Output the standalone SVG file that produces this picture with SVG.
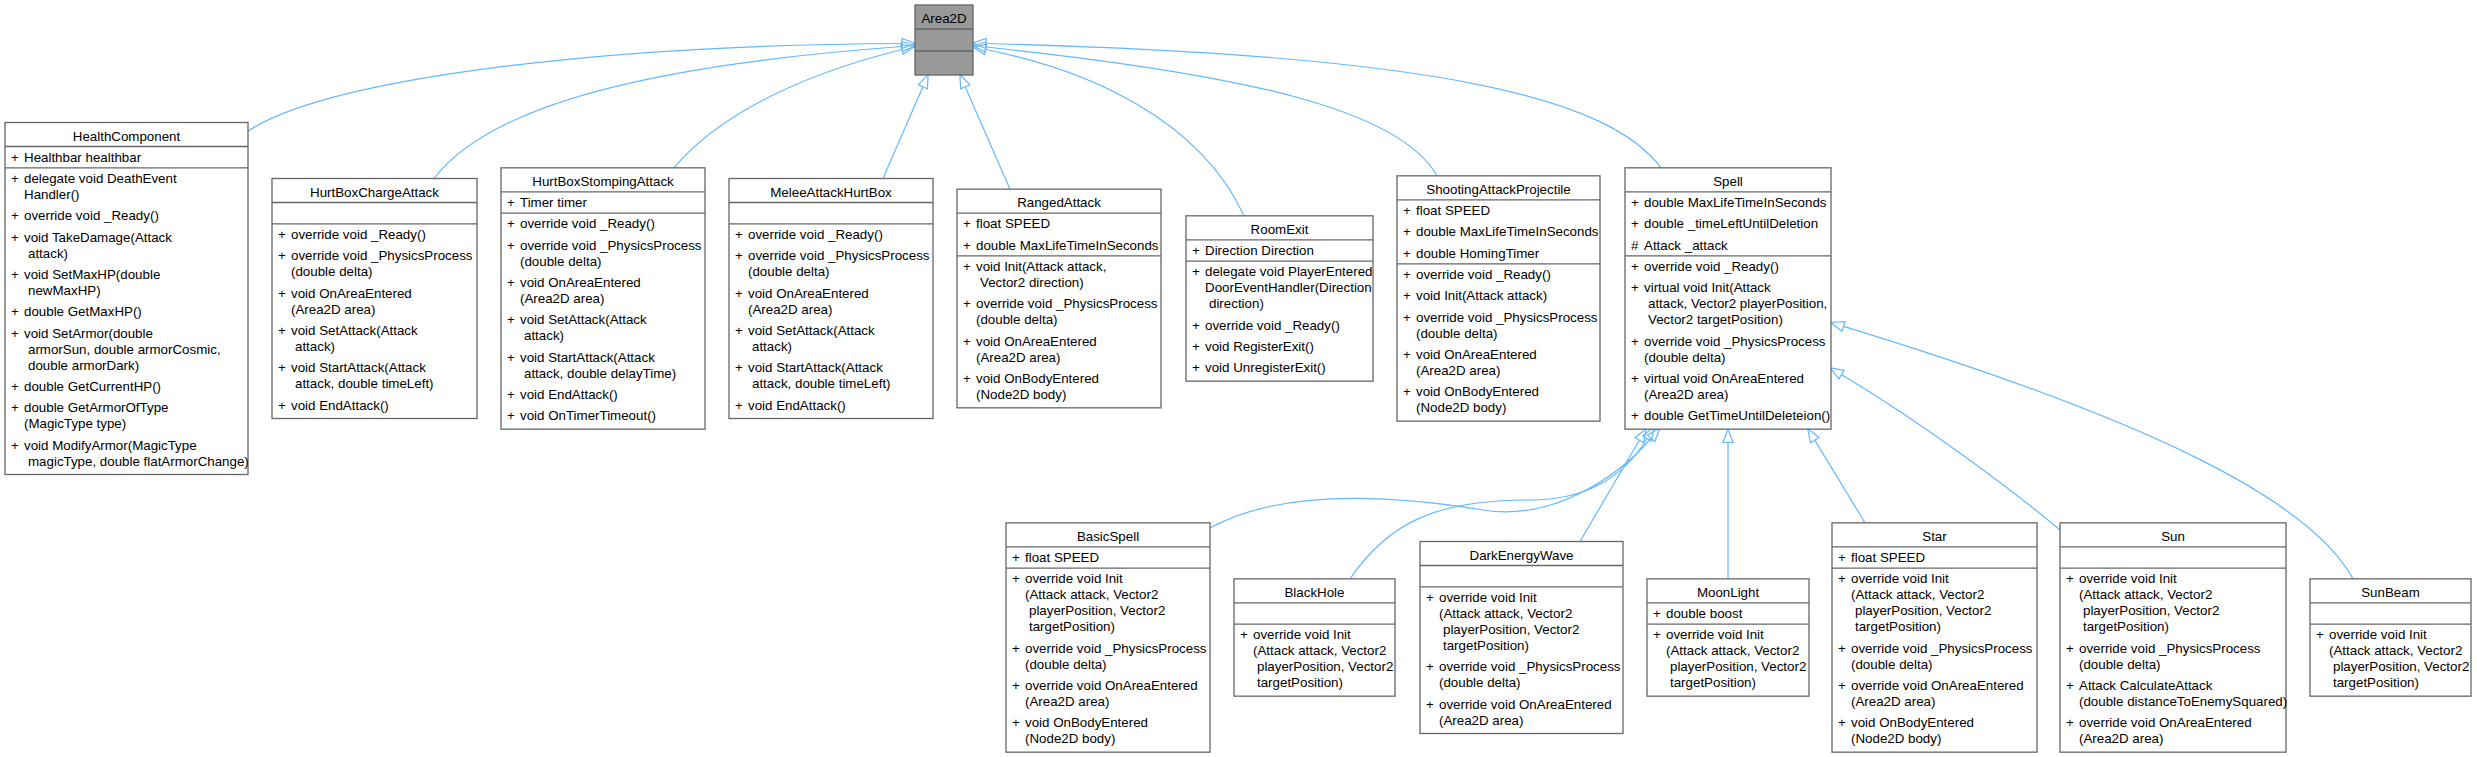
<svg xmlns="http://www.w3.org/2000/svg" width="2477" height="757" viewBox="0 0 2477 757">
<style>
.bx{fill:#ffffff;stroke:#666666;stroke-width:1.3}
.gr{fill:#999999;stroke:#666666;stroke-width:1.3}
.sp{stroke:#666666;stroke-width:1.3}
text{font-family:"Liberation Sans",Arial,sans-serif;font-size:13.33px;fill:#000000}
.c{text-anchor:middle}
.e{fill:none;stroke:#63B8FF;stroke-width:1.2;marker-end:url(#arr)}
</style>
<defs>
<marker id="arr" markerUnits="userSpaceOnUse" markerWidth="16" markerHeight="12" refX="0" refY="6" orient="auto" viewBox="0 0 16 12" overflow="visible">
<path d="M0,1 L13.5,6 L0,11 Z" fill="none" stroke="#63B8FF" stroke-width="1.2"/>
</marker>
</defs>
<rect width="2477" height="757" fill="#ffffff"/>

<g id="edges">
<path class="e" d="M248,131 C330,78 600,45 902,43.5"/>
<path class="e" d="M434,178.5 C490,105 650,65 902,46.5"/>
<path class="e" d="M674,167.8 C710,125 780,80 902,49.5"/>
<path class="e" d="M883,178.5 L922.8,86.9"/>
<path class="e" d="M1010,189.2 L965.3,86.9"/>
<path class="e" d="M1244,215.8 C1200,120 1090,70 985.5,49.5"/>
<path class="e" d="M1437,175.8 C1400,110 1250,75 985.7,47"/>
<path class="e" d="M1661,167.8 C1610,100 1450,55 986,43.5"/>
<path class="e" d="M1210,528 C1270,495 1360,490 1483,510 C1550,521 1615,480 1651,438.5"/>
<path class="e" d="M1350,578.8 C1390,520 1440,500 1530,500 C1590,500 1625,475 1647,438.5"/>
<path class="e" d="M1580,541.5 L1639.4,440.2"/>
<path class="e" d="M1728,578.8 L1728,442.5"/>
<path class="e" d="M1865,522.8 L1814.7,440.1"/>
<path class="e" d="M2060,530 C2010,488 1925,425 1841.5,374.6"/>
<path class="e" d="M2353,578.8 C2310,500 2150,420 1843.6,326.4"/>
</g>

<g id="Area2D">
<rect class="gr" x="915" y="5" width="58" height="70"/>
<line class="sp" x1="915" y1="29" x2="973" y2="29"/>
<line class="sp" x1="915" y1="51" x2="973" y2="51"/>
<text class="c" x="944" y="23">Area2D</text>
</g>

<g id="HealthComponent">
<rect class="bx" x="5" y="122.5" width="243" height="352"/>
<line class="sp" x1="5" y1="146.5" x2="248" y2="146.5"/>
<line class="sp" x1="5" y1="167.83" x2="248" y2="167.83"/>
<text class="c" x="126.5" y="140.5">HealthComponent</text>
<text x="11" y="161.7">+<tspan x="24">Healthbar healthbar</tspan></text>
<text x="11" y="183">+<tspan x="24">delegate void DeathEvent</tspan></text>
<text x="24" y="199">Handler()</text>
<text x="11" y="220.33">+<tspan x="24">override void _Ready()</tspan></text>
<text x="11" y="241.67">+<tspan x="24">void TakeDamage(Attack</tspan></text>
<text x="28" y="257.67">attack)</text>
<text x="11" y="279">+<tspan x="24">void SetMaxHP(double</tspan></text>
<text x="28" y="295">newMaxHP)</text>
<text x="11" y="316.33">+<tspan x="24">double GetMaxHP()</tspan></text>
<text x="11" y="337.67">+<tspan x="24">void SetArmor(double</tspan></text>
<text x="28" y="353.67">armorSun, double armorCosmic,</text>
<text x="28" y="369.67">double armorDark)</text>
<text x="11" y="391">+<tspan x="24">double GetCurrentHP()</tspan></text>
<text x="11" y="412.33">+<tspan x="24">double GetArmorOfType</tspan></text>
<text x="24" y="428.33">(MagicType type)</text>
<text x="11" y="449.67">+<tspan x="24">void ModifyArmor(MagicType</tspan></text>
<text x="28" y="465.67">magicType, double flatArmorChange)</text>
</g>

<g id="HurtBoxChargeAttack">
<rect class="bx" x="272" y="178.5" width="205" height="240"/>
<line class="sp" x1="272" y1="202.5" x2="477" y2="202.5"/>
<line class="sp" x1="272" y1="223.83" x2="477" y2="223.83"/>
<text class="c" x="374.5" y="196.5">HurtBoxChargeAttack</text>
<text x="278" y="239">+<tspan x="291">override void _Ready()</tspan></text>
<text x="278" y="260.33">+<tspan x="291">override void _PhysicsProcess</tspan></text>
<text x="291" y="276.33">(double delta)</text>
<text x="278" y="297.67">+<tspan x="291">void OnAreaEntered</tspan></text>
<text x="291" y="313.67">(Area2D area)</text>
<text x="278" y="335">+<tspan x="291">void SetAttack(Attack</tspan></text>
<text x="295" y="351">attack)</text>
<text x="278" y="372.33">+<tspan x="291">void StartAttack(Attack</tspan></text>
<text x="295" y="388.33">attack, double timeLeft)</text>
<text x="278" y="409.67">+<tspan x="291">void EndAttack()</tspan></text>
</g>

<g id="HurtBoxStompingAttack">
<rect class="bx" x="501" y="167.83" width="204" height="261.33"/>
<line class="sp" x1="501" y1="191.83" x2="705" y2="191.83"/>
<line class="sp" x1="501" y1="213.17" x2="705" y2="213.17"/>
<text class="c" x="603" y="185.83">HurtBoxStompingAttack</text>
<text x="507" y="207.03">+<tspan x="520">Timer timer</tspan></text>
<text x="507" y="228.33">+<tspan x="520">override void _Ready()</tspan></text>
<text x="507" y="249.67">+<tspan x="520">override void _PhysicsProcess</tspan></text>
<text x="520" y="265.67">(double delta)</text>
<text x="507" y="287">+<tspan x="520">void OnAreaEntered</tspan></text>
<text x="520" y="303">(Area2D area)</text>
<text x="507" y="324.33">+<tspan x="520">void SetAttack(Attack</tspan></text>
<text x="524" y="340.33">attack)</text>
<text x="507" y="361.67">+<tspan x="520">void StartAttack(Attack</tspan></text>
<text x="524" y="377.67">attack, double delayTime)</text>
<text x="507" y="399">+<tspan x="520">void EndAttack()</tspan></text>
<text x="507" y="420.33">+<tspan x="520">void OnTimerTimeout()</tspan></text>
</g>

<g id="MeleeAttackHurtBox">
<rect class="bx" x="729" y="178.5" width="204" height="240"/>
<line class="sp" x1="729" y1="202.5" x2="933" y2="202.5"/>
<line class="sp" x1="729" y1="223.83" x2="933" y2="223.83"/>
<text class="c" x="831" y="196.5">MeleeAttackHurtBox</text>
<text x="735" y="239">+<tspan x="748">override void _Ready()</tspan></text>
<text x="735" y="260.33">+<tspan x="748">override void _PhysicsProcess</tspan></text>
<text x="748" y="276.33">(double delta)</text>
<text x="735" y="297.67">+<tspan x="748">void OnAreaEntered</tspan></text>
<text x="748" y="313.67">(Area2D area)</text>
<text x="735" y="335">+<tspan x="748">void SetAttack(Attack</tspan></text>
<text x="752" y="351">attack)</text>
<text x="735" y="372.33">+<tspan x="748">void StartAttack(Attack</tspan></text>
<text x="752" y="388.33">attack, double timeLeft)</text>
<text x="735" y="409.67">+<tspan x="748">void EndAttack()</tspan></text>
</g>

<g id="RangedAttack">
<rect class="bx" x="957" y="189.17" width="204" height="218.67"/>
<line class="sp" x1="957" y1="213.17" x2="1161" y2="213.17"/>
<line class="sp" x1="957" y1="255.83" x2="1161" y2="255.83"/>
<text class="c" x="1059" y="207.17">RangedAttack</text>
<text x="963" y="228.37">+<tspan x="976">float SPEED</tspan></text>
<text x="963" y="249.7">+<tspan x="976">double MaxLifeTimeInSeconds</tspan></text>
<text x="963" y="271">+<tspan x="976">void Init(Attack attack,</tspan></text>
<text x="980" y="287">Vector2 direction)</text>
<text x="963" y="308.33">+<tspan x="976">override void _PhysicsProcess</tspan></text>
<text x="976" y="324.33">(double delta)</text>
<text x="963" y="345.67">+<tspan x="976">void OnAreaEntered</tspan></text>
<text x="976" y="361.67">(Area2D area)</text>
<text x="963" y="383">+<tspan x="976">void OnBodyEntered</tspan></text>
<text x="976" y="399">(Node2D body)</text>
</g>

<g id="RoomExit">
<rect class="bx" x="1186" y="215.83" width="187" height="165.33"/>
<line class="sp" x1="1186" y1="239.83" x2="1373" y2="239.83"/>
<line class="sp" x1="1186" y1="261.17" x2="1373" y2="261.17"/>
<text class="c" x="1279.5" y="233.83">RoomExit</text>
<text x="1192" y="255.03">+<tspan x="1205">Direction Direction</tspan></text>
<text x="1192" y="276.33">+<tspan x="1205">delegate void PlayerEntered</tspan></text>
<text x="1205" y="292.33">DoorEventHandler(Direction</text>
<text x="1209" y="308.33">direction)</text>
<text x="1192" y="329.67">+<tspan x="1205">override void _Ready()</tspan></text>
<text x="1192" y="351">+<tspan x="1205">void RegisterExit()</tspan></text>
<text x="1192" y="372.33">+<tspan x="1205">void UnregisterExit()</tspan></text>
</g>

<g id="ShootingAttackProjectile">
<rect class="bx" x="1397" y="175.83" width="203" height="245.33"/>
<line class="sp" x1="1397" y1="199.83" x2="1600" y2="199.83"/>
<line class="sp" x1="1397" y1="263.83" x2="1600" y2="263.83"/>
<text class="c" x="1498.5" y="193.83">ShootingAttackProjectile</text>
<text x="1403" y="215.03">+<tspan x="1416">float SPEED</tspan></text>
<text x="1403" y="236.37">+<tspan x="1416">double MaxLifeTimeInSeconds</tspan></text>
<text x="1403" y="257.7">+<tspan x="1416">double HomingTimer</tspan></text>
<text x="1403" y="279">+<tspan x="1416">override void _Ready()</tspan></text>
<text x="1403" y="300.33">+<tspan x="1416">void Init(Attack attack)</tspan></text>
<text x="1403" y="321.67">+<tspan x="1416">override void _PhysicsProcess</tspan></text>
<text x="1416" y="337.67">(double delta)</text>
<text x="1403" y="359">+<tspan x="1416">void OnAreaEntered</tspan></text>
<text x="1416" y="375">(Area2D area)</text>
<text x="1403" y="396.33">+<tspan x="1416">void OnBodyEntered</tspan></text>
<text x="1416" y="412.33">(Node2D body)</text>
</g>

<g id="Spell">
<rect class="bx" x="1625" y="167.83" width="206" height="261.33"/>
<line class="sp" x1="1625" y1="191.83" x2="1831" y2="191.83"/>
<line class="sp" x1="1625" y1="255.83" x2="1831" y2="255.83"/>
<text class="c" x="1728" y="185.83">Spell</text>
<text x="1631" y="207.03">+<tspan x="1644">double MaxLifeTimeInSeconds</tspan></text>
<text x="1631" y="228.37">+<tspan x="1644">double _timeLeftUntilDeletion</tspan></text>
<text x="1631" y="249.7">#<tspan x="1644">Attack _attack</tspan></text>
<text x="1631" y="271">+<tspan x="1644">override void _Ready()</tspan></text>
<text x="1631" y="292.33">+<tspan x="1644">virtual void Init(Attack</tspan></text>
<text x="1648" y="308.33">attack, Vector2 playerPosition,</text>
<text x="1648" y="324.33">Vector2 targetPosition)</text>
<text x="1631" y="345.67">+<tspan x="1644">override void _PhysicsProcess</tspan></text>
<text x="1644" y="361.67">(double delta)</text>
<text x="1631" y="383">+<tspan x="1644">virtual void OnAreaEntered</tspan></text>
<text x="1644" y="399">(Area2D area)</text>
<text x="1631" y="420.33">+<tspan x="1644">double GetTimeUntilDeleteion()</tspan></text>
</g>

<g id="BasicSpell">
<rect class="bx" x="1006" y="522.83" width="204" height="229.33"/>
<line class="sp" x1="1006" y1="546.83" x2="1210" y2="546.83"/>
<line class="sp" x1="1006" y1="568.17" x2="1210" y2="568.17"/>
<text class="c" x="1108" y="540.83">BasicSpell</text>
<text x="1012" y="562.03">+<tspan x="1025">float SPEED</tspan></text>
<text x="1012" y="583.33">+<tspan x="1025">override void Init</tspan></text>
<text x="1025" y="599.33">(Attack attack, Vector2</text>
<text x="1029" y="615.33">playerPosition, Vector2</text>
<text x="1029" y="631.33">targetPosition)</text>
<text x="1012" y="652.67">+<tspan x="1025">override void _PhysicsProcess</tspan></text>
<text x="1025" y="668.67">(double delta)</text>
<text x="1012" y="690">+<tspan x="1025">override void OnAreaEntered</tspan></text>
<text x="1025" y="706">(Area2D area)</text>
<text x="1012" y="727.33">+<tspan x="1025">void OnBodyEntered</tspan></text>
<text x="1025" y="743.33">(Node2D body)</text>
</g>

<g id="BlackHole">
<rect class="bx" x="1234" y="578.83" width="161" height="117.33"/>
<line class="sp" x1="1234" y1="602.83" x2="1395" y2="602.83"/>
<line class="sp" x1="1234" y1="624.17" x2="1395" y2="624.17"/>
<text class="c" x="1314.5" y="596.83">BlackHole</text>
<text x="1240" y="639.33">+<tspan x="1253">override void Init</tspan></text>
<text x="1253" y="655.33">(Attack attack, Vector2</text>
<text x="1257" y="671.33">playerPosition, Vector2</text>
<text x="1257" y="687.33">targetPosition)</text>
</g>

<g id="DarkEnergyWave">
<rect class="bx" x="1420" y="541.5" width="203" height="192"/>
<line class="sp" x1="1420" y1="565.5" x2="1623" y2="565.5"/>
<line class="sp" x1="1420" y1="586.83" x2="1623" y2="586.83"/>
<text class="c" x="1521.5" y="559.5">DarkEnergyWave</text>
<text x="1426" y="602">+<tspan x="1439">override void Init</tspan></text>
<text x="1439" y="618">(Attack attack, Vector2</text>
<text x="1443" y="634">playerPosition, Vector2</text>
<text x="1443" y="650">targetPosition)</text>
<text x="1426" y="671.33">+<tspan x="1439">override void _PhysicsProcess</tspan></text>
<text x="1439" y="687.33">(double delta)</text>
<text x="1426" y="708.67">+<tspan x="1439">override void OnAreaEntered</tspan></text>
<text x="1439" y="724.67">(Area2D area)</text>
</g>

<g id="MoonLight">
<rect class="bx" x="1647" y="578.83" width="162" height="117.33"/>
<line class="sp" x1="1647" y1="602.83" x2="1809" y2="602.83"/>
<line class="sp" x1="1647" y1="624.17" x2="1809" y2="624.17"/>
<text class="c" x="1728" y="596.83">MoonLight</text>
<text x="1653" y="618.03">+<tspan x="1666">double boost</tspan></text>
<text x="1653" y="639.33">+<tspan x="1666">override void Init</tspan></text>
<text x="1666" y="655.33">(Attack attack, Vector2</text>
<text x="1670" y="671.33">playerPosition, Vector2</text>
<text x="1670" y="687.33">targetPosition)</text>
</g>

<g id="Star">
<rect class="bx" x="1832" y="522.83" width="205" height="229.33"/>
<line class="sp" x1="1832" y1="546.83" x2="2037" y2="546.83"/>
<line class="sp" x1="1832" y1="568.17" x2="2037" y2="568.17"/>
<text class="c" x="1934.5" y="540.83">Star</text>
<text x="1838" y="562.03">+<tspan x="1851">float SPEED</tspan></text>
<text x="1838" y="583.33">+<tspan x="1851">override void Init</tspan></text>
<text x="1851" y="599.33">(Attack attack, Vector2</text>
<text x="1855" y="615.33">playerPosition, Vector2</text>
<text x="1855" y="631.33">targetPosition)</text>
<text x="1838" y="652.67">+<tspan x="1851">override void _PhysicsProcess</tspan></text>
<text x="1851" y="668.67">(double delta)</text>
<text x="1838" y="690">+<tspan x="1851">override void OnAreaEntered</tspan></text>
<text x="1851" y="706">(Area2D area)</text>
<text x="1838" y="727.33">+<tspan x="1851">void OnBodyEntered</tspan></text>
<text x="1851" y="743.33">(Node2D body)</text>
</g>

<g id="Sun">
<rect class="bx" x="2060" y="522.83" width="226" height="229.33"/>
<line class="sp" x1="2060" y1="546.83" x2="2286" y2="546.83"/>
<line class="sp" x1="2060" y1="568.17" x2="2286" y2="568.17"/>
<text class="c" x="2173" y="540.83">Sun</text>
<text x="2066" y="583.33">+<tspan x="2079">override void Init</tspan></text>
<text x="2079" y="599.33">(Attack attack, Vector2</text>
<text x="2083" y="615.33">playerPosition, Vector2</text>
<text x="2083" y="631.33">targetPosition)</text>
<text x="2066" y="652.67">+<tspan x="2079">override void _PhysicsProcess</tspan></text>
<text x="2079" y="668.67">(double delta)</text>
<text x="2066" y="690">+<tspan x="2079">Attack CalculateAttack</tspan></text>
<text x="2079" y="706">(double distanceToEnemySquared)</text>
<text x="2066" y="727.33">+<tspan x="2079">override void OnAreaEntered</tspan></text>
<text x="2079" y="743.33">(Area2D area)</text>
</g>

<g id="SunBeam">
<rect class="bx" x="2310" y="578.83" width="161" height="117.33"/>
<line class="sp" x1="2310" y1="602.83" x2="2471" y2="602.83"/>
<line class="sp" x1="2310" y1="624.17" x2="2471" y2="624.17"/>
<text class="c" x="2390.5" y="596.83">SunBeam</text>
<text x="2316" y="639.33">+<tspan x="2329">override void Init</tspan></text>
<text x="2329" y="655.33">(Attack attack, Vector2</text>
<text x="2333" y="671.33">playerPosition, Vector2</text>
<text x="2333" y="687.33">targetPosition)</text>
</g>
</svg>
